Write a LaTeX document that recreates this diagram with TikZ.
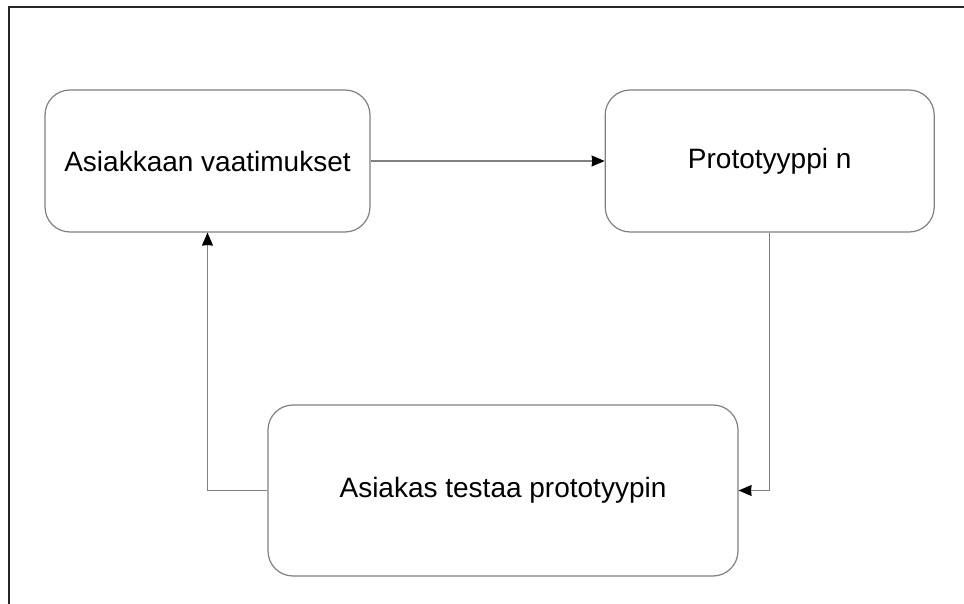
\documentclass[tikz,border=0pt]{standalone}
\usepackage{fontspec}
\setmainfont{Liberation Sans}
\usepackage{xcolor}
\usepackage{tikz}
\usetikzlibrary{arrows.meta}
\usetikzlibrary{positioning}

\definecolor{linegray}{HTML}{808080}

\begin{document}
\begin{tikzpicture}[
    x = 0.5pt, y = -0.5pt,
    node distance = 117pt]
    \tikzstyle{every node}=[draw=linegray,line width=0.6pt,rounded corners=12.5pt,
      font=\fontsize{14}{17}\selectfont]
    \tikzstyle{pointer}=[->,>={Stealth[length=6.5pt,width=5.5pt,inset=0.3pt,black]},
      draw=linegray,line width=0.6pt]
    \useasboundingbox (0,0) rectangle (964,604);
    % frame, only top and left show
    \draw[line width=1pt,black!85] (9,604) -- (9,7) -- (964,7);
    \node[minimum width=162.5pt,minimum height=71pt] (req) at (207.5,161) {Asiakkaan vaatimukset};
    \node[minimum width=164.5pt,minimum height=71pt] (proto) [right=of req] {Prototyyppi n};
    \node[minimum width=235pt,minimum height=85.5pt] (test) at (503,490.5) {Asiakas testaa prototyypin};
    \draw[pointer] (req) -- (proto);
    \draw[pointer] (proto.south) |- (test.east);
    \draw[pointer] (test.west) -| (req.south);
\end{tikzpicture}
\end{document}
